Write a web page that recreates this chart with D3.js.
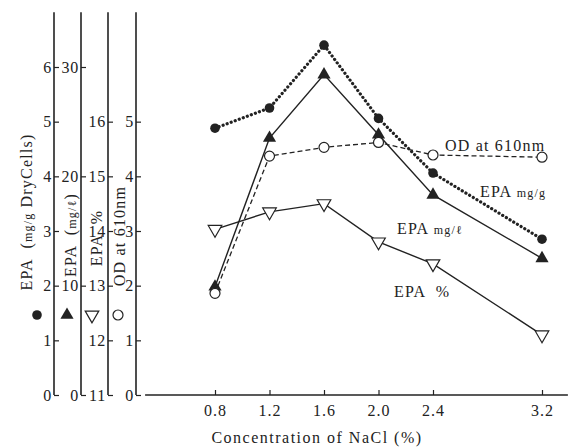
<!DOCTYPE html>
<html>
<head>
<meta charset="utf-8">
<script src="https://cdn.jsdelivr.net/npm/d3@7"></script>
<style>
  body { margin: 0; background: #fff; }
  svg text { font-family: "Liberation Serif", "DejaVu Serif", serif; fill: #222; white-space: pre; }
</style>
</head>
<body>
<div id="chart"></div>
<script>
// data
const nacl = [0.8, 1.2, 1.6, 2.0, 2.4, 3.2];
const epaMgG = [4.88, 5.25, 6.4, 5.06, 4.06, 2.85];     // mg/g dry cells
const epaMgL = [9.9, 23.5, 29.3, 23.8, 18.3, 12.5];     // mg/l
const epaPct = [14.03, 14.35, 14.5, 13.8, 13.4, 12.1];  // %
const od610 = [1.86, 4.37, 4.53, 4.62, 4.39, 4.35];     // OD at 610nm

const ticksMgG = [0, 1, 2, 3, 4, 5, 6];
const ticksMgL = [0, 10, 20, 30];
const ticksPct = [11, 12, 13, 14, 15, 16];
const ticksOD = [0, 1, 2, 3, 4, 5];

const width = 574, height = 447;
const ink = "#222";

const svg = d3.select("#chart").append("svg")
  .attr("width", width).attr("height", height);

const x = d3.scaleLinear().domain([0.8, 3.2]).range([215, 542]);
const y1 = d3.scaleLinear().domain([0, 6]).range([395, 67]);
const y2 = d3.scaleLinear().domain([0, 30]).range([395, 67]);
const y3 = d3.scaleLinear().domain([11, 17]).range([395, 67]);
const y4 = d3.scaleLinear().domain([0, 6]).range([395, 67]);

// four stacked y axes: label left of line, tick pointing right
const axes = [
  { scale: y1, ticks: ticksMgG, x: 54, top: 7 },
  { scale: y2, ticks: ticksMgL, x: 81, top: 35 },
  { scale: y3, ticks: ticksPct, x: 108, top: 18 },
  { scale: y4, ticks: ticksOD, x: 136, top: 7 }
];

axes.forEach(a => {
  const g = svg.append("g").attr("transform", `translate(${a.x},0)`)
    .call(d3.axisLeft(a.scale).tickValues(a.ticks).tickSizeInner(-5).tickSizeOuter(0).tickPadding(2).tickFormat(d3.format("d")));
  g.select(".domain").remove();
  g.selectAll(".tick line").attr("stroke", ink).attr("stroke-width", 1.2);
  g.selectAll(".tick text").attr("font-size", 16).attr("fill", ink)
    .attr("letter-spacing", 0.8)
    .attr("font-family", "Liberation Serif, serif");
  g.append("line")
    .attr("y1", a.scale(a.scale.domain()[0])).attr("y2", a.scale(a.top))
    .attr("stroke", ink).attr("stroke-width", 1.6);
});

// x axis
const xg = svg.append("g").attr("transform", "translate(0,395)")
  .call(d3.axisBottom(x).tickValues(nacl).tickSizeInner(-5).tickSizeOuter(0).tickPadding(10).tickFormat(d3.format(".1f")));
xg.select(".domain").remove();
xg.append("line").attr("x1", x(0.287)).attr("x2", x(3.39))
  .attr("stroke", ink).attr("stroke-width", 1.6);
xg.selectAll(".tick line").attr("stroke", ink).attr("stroke-width", 1.2);
xg.selectAll(".tick text").attr("font-size", 16).attr("fill", ink)
  .attr("letter-spacing", 1)
  .attr("font-family", "Liberation Serif, serif");

svg.append("text").attr("x", 317).attr("y", 443).attr("text-anchor", "middle")
  .attr("font-size", 16).attr("letter-spacing", 1.5).text("Concentration of NaCl (%)");

// axis titles (rotated)
function vtitle(cx, cy, parts) {
  const t = svg.append("text").attr("transform", `translate(${cx},${cy}) rotate(-90)`)
    .attr("text-anchor", "middle").attr("font-size", 16).attr("letter-spacing", 1.2);
  parts.forEach(p => t.append("tspan").attr("font-size", p[1]).text(p[0]));
}
vtitle(32, 212, [["EPA  (", 16], ["mg/g", 12], [" DryCells)", 16]]);
vtitle(76, 235, [["EPA  (", 16], ["mg/ℓ", 12], [")", 16]]);
vtitle(102, 238, [["EPA  %", 16]]);
vtitle(125, 236, [["OD at 610nm", 16]]);

// series
const rows = nacl.map((c, i) => ({ c, mgG: epaMgG[i], mgL: epaMgL[i], pct: epaPct[i], od: od610[i] }));

const series = [
  { key: "mgG", y: y1, dash: "0.1 4.2", width: 3.2, cap: "round", sym: "dot" },
  { key: "mgL", y: y2, dash: null, width: 1.4, cap: "butt", sym: "up" },
  { key: "pct", y: y3, dash: null, width: 1.4, cap: "butt", sym: "down" },
  { key: "od", y: y4, dash: "5 3", width: 1.3, cap: "butt", sym: "circle" }
];

series.forEach(s => {
  const line = d3.line().x(d => x(d.c)).y(d => s.y(d[s.key]));
  svg.append("path").datum(rows).attr("d", line).attr("fill", "none")
    .attr("stroke", ink).attr("stroke-width", s.width)
    .attr("stroke-linecap", s.cap)
    .attr("stroke-dasharray", s.dash);
});

function marker(sel, sym) {
  if (sym === "dot") {
    sel.append("circle").attr("r", 4.8).attr("fill", ink);
  } else if (sym === "circle") {
    sel.append("circle").attr("r", 5).attr("fill", "#fff").attr("stroke", ink).attr("stroke-width", 1.2);
  } else if (sym === "up") {
    sel.append("path").attr("d", d3.symbol(d3.symbolTriangle, 75)()).attr("fill", ink);
  } else {
    sel.append("path").attr("d", d3.symbol(d3.symbolTriangle, 80)())
      .attr("transform", "rotate(180)").attr("fill", "#fff").attr("stroke", ink).attr("stroke-width", 1.2);
  }
}

series.forEach(s => {
  svg.append("g").selectAll("g").data(rows).join("g")
    .attr("transform", d => `translate(${x(d.c)},${s.y(d[s.key])})`)
    .each(function () { marker(d3.select(this), s.sym); });
});

// legend symbols under the axis titles
[["dot", 37], ["up", 67], ["down", 92], ["circle", 118]].forEach(([sym, lx]) => {
  marker(svg.append("g").attr("transform", `translate(${lx},315)`), sym);
});

// series labels
function label(lx, ly, parts) {
  const t = svg.append("text").attr("x", lx).attr("y", ly).attr("font-size", 16).attr("letter-spacing", 1.2);
  parts.forEach(p => t.append("tspan").attr("font-size", p[1]).text(p[0]));
}
label(445, 151, [["OD at 610nm", 16]]);
label(480, 197, [["EPA ", 16], ["mg/g", 12]]);
label(397, 234, [["EPA ", 16], ["mg/ℓ", 12]]);
label(394, 297, [["EPA  %", 16]]);
</script>
</body>
</html>
